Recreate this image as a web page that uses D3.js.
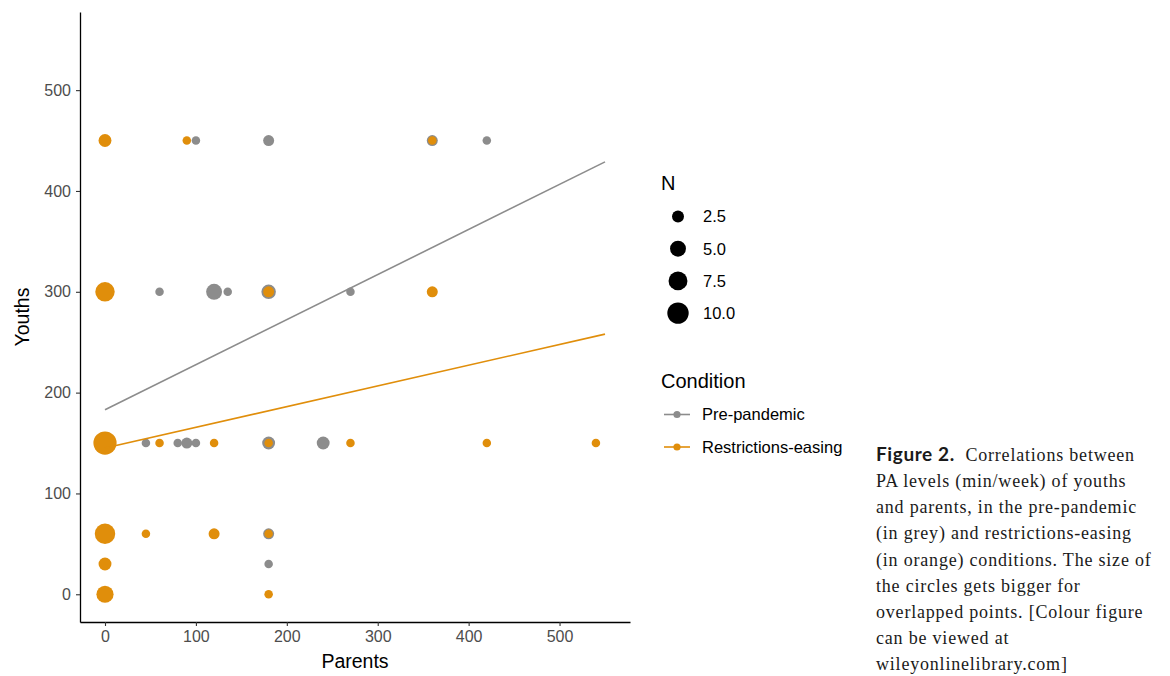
<!DOCTYPE html>
<html>
<head>
<meta charset="utf-8">
<script src="https://cdn.jsdelivr.net/npm/d3@7"></script>
<style>
  body { margin: 0; background: #fff; }
  svg { display: block; }
</style>
</head>
<body>
<svg id="chart"></svg>
<script>
// grouped points: parents (x), youths (y), count of overlapping cases (n)
const preX = [100, 180, 360, 420, 60, 120, 135, 180, 270, 45, 80, 90, 100, 180, 240, 180, 180];
const preY = [450, 450, 450, 450, 300, 300, 300, 300, 300, 150, 150, 150, 150, 150, 150, 60, 30];
const preN = [1, 2, 2, 1, 1, 5, 1, 4, 1, 1, 1, 2, 1, 3, 3, 2, 1];

const easeX = [0, 90, 360, 0, 180, 360, 0, 60, 120, 180, 270, 420, 540, 0, 45, 120, 180, 0, 0, 180];
const easeY = [450, 450, 450, 300, 300, 300, 150, 150, 150, 150, 150, 150, 150, 60, 60, 60, 60, 30, 0, 0];
const easeN = [3, 1, 1, 8, 2, 2, 12, 1, 1, 1, 1, 1, 1, 9, 1, 2, 1, 3, 6, 1];

// fitted lines (intercept, slope)
const preFit = [183, 0.447];
const easeFit = [145, 0.2055];
const fitRange = [0, 550];

const xTicks = [0, 100, 200, 300, 400, 500];
const yTicks = [0, 100, 200, 300, 400, 500];
const sizeBreaks = [2.5, 5.0, 7.5, 10.0];
const conditions = ["Pre-pandemic", "Restrictions-easing"];
const colors = ["#8c8c8c", "#e08e0b"];

const caption = [
  "PA levels (min/week) of youths",
  "and parents, in the pre-pandemic",
  "(in grey) and restrictions-easing",
  "(in orange) conditions. The size of",
  "the circles gets bigger for",
  "overlapped points. [Colour figure",
  "can be viewed at",
  "wileyonlinelibrary.com]"
];

const width = 1170, height = 676;
const svg = d3.select("#chart").attr("width", width).attr("height", height);

const plotL = 80, plotR = 630, plotT = 12, plotB = 622;
const x = d3.scaleLinear().domain([-27.5, 577.5]).range([plotL, plotR]);
const y = d3.scaleLinear().domain([-27.5, 577.5]).range([plotB, plotT]);
const r = d3.scaleSqrt().domain([1, 12]).range([4.27, 11.6]);

const sans = "'Liberation Sans', Arial, sans-serif";
const serif = "'Liberation Serif', 'Times New Roman', serif";

// axes
const xAxis = svg.append("g")
    .attr("transform", `translate(0,${plotB})`)
    .call(d3.axisBottom(x).tickValues(xTicks).tickSize(4).tickSizeOuter(0).tickPadding(5));
const yAxis = svg.append("g")
    .attr("transform", `translate(${plotL},0)`)
    .call(d3.axisLeft(y).tickValues(yTicks).tickSize(4).tickSizeOuter(0).tickPadding(5));

[xAxis, yAxis].forEach(ax => {
    ax.select(".domain").attr("stroke", "#000").attr("stroke-width", 1.3);
    ax.selectAll(".tick line").attr("stroke", "#333").attr("stroke-width", 1.1);
    ax.selectAll(".tick text")
        .attr("fill", "#4d4d4d")
        .style("font-family", sans)
        .style("font-size", "16px");
});

svg.append("text")
    .attr("x", (plotL + plotR) / 2)
    .attr("y", 668)
    .attr("text-anchor", "middle")
    .style("font-family", sans)
    .style("font-size", "19.5px")
    .text("Parents");

svg.append("text")
    .attr("transform", `translate(29,${(plotT + plotB) / 2}) rotate(-90)`)
    .attr("text-anchor", "middle")
    .style("font-family", sans)
    .style("font-size", "19.5px")
    .text("Youths");

// points
const plot = svg.append("g");
const groups = [
    {xs: preX, ys: preY, ns: preN, color: colors[0]},
    {xs: easeX, ys: easeY, ns: easeN, color: colors[1]}
];
groups.forEach(g => {
    plot.selectAll(null)
        .data(g.xs.map((v, i) => ({x: v, y: g.ys[i], n: g.ns[i]})))
        .enter()
        .append("circle")
        .attr("cx", d => x(d.x))
        .attr("cy", d => y(d.y))
        .attr("r", d => r(d.n))
        .attr("fill", g.color);
});

// regression lines
[preFit, easeFit].forEach((fit, i) => {
    plot.append("line")
        .attr("x1", x(fitRange[0]))
        .attr("y1", y(fit[0] + fit[1] * fitRange[0]))
        .attr("x2", x(fitRange[1]))
        .attr("y2", y(fit[0] + fit[1] * fitRange[1]))
        .attr("stroke", colors[i])
        .attr("stroke-width", 1.6);
});

// size legend
const legend = svg.append("g");
legend.append("text")
    .attr("x", 661).attr("y", 190)
    .style("font-family", sans).style("font-size", "20px")
    .text("N");

const sizeItem = legend.selectAll(".size-item")
    .data(sizeBreaks)
    .enter()
    .append("g")
    .attr("transform", (d, i) => `translate(678,${216.5 + i * 32.2})`);
sizeItem.append("circle")
    .attr("r", d => r(d))
    .attr("fill", "#000");
sizeItem.append("text")
    .attr("x", 25).attr("dy", "0.36em")
    .style("font-family", sans).style("font-size", "16.5px")
    .text(d => d.toFixed(1));

// condition legend
legend.append("text")
    .attr("x", 661).attr("y", 388)
    .style("font-family", sans).style("font-size", "20px")
    .text("Condition");

const condItem = legend.selectAll(".cond-item")
    .data(conditions)
    .enter()
    .append("g")
    .attr("transform", (d, i) => `translate(677,${414.5 + i * 32.5})`);
condItem.append("line")
    .attr("x1", -13).attr("x2", 13)
    .attr("stroke", (d, i) => colors[i])
    .attr("stroke-width", 1.6);
condItem.append("circle")
    .attr("r", 3.6)
    .attr("fill", (d, i) => colors[i]);
condItem.append("text")
    .attr("x", 25).attr("dy", "0.36em")
    .style("font-family", sans).style("font-size", "16.5px")
    .text(d => d);

// caption
const cap = svg.append("g").style("fill", "#1a1a1a");
const first = cap.append("text")
    .attr("x", 876).attr("y", 461)
    .style("font-family", serif)
    .style("font-size", "18px")
    .style("letter-spacing", "0.8px");
first.append("tspan")
    .style("font-family", "Lato, 'Open Sans', sans-serif")
    .style("font-weight", "bold")
    .style("font-size", "19px")
    .style("letter-spacing", "0.6px")
    .text("Figure 2.");
first.append("tspan").text("\u00a0\u00a0Correlations between");

cap.selectAll(".cap-line")
    .data(caption)
    .enter()
    .append("text")
    .attr("x", 876)
    .attr("y", (d, i) => 487.2 + i * 26.1)
    .style("font-family", serif)
    .style("font-size", "18px")
    .style("letter-spacing", "0.8px")
    .text(d => d);
</script>
</body>
</html>
